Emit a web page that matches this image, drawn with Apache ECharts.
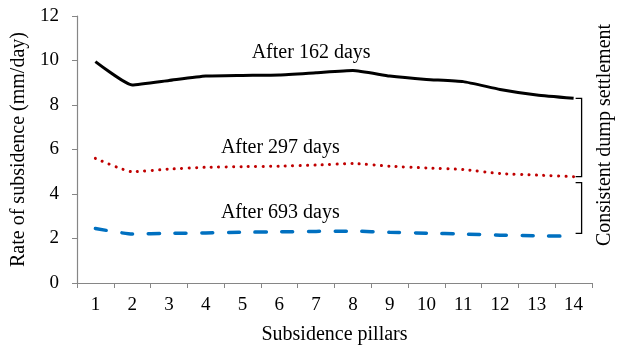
<!DOCTYPE html>
<html>
<head>
<meta charset="utf-8">
<script src="https://cdn.jsdelivr.net/npm/echarts@6/dist/echarts.min.js"></script>
<style>
  html, body { margin: 0; padding: 0; background: #fff; }
  #main { width: 621px; height: 348px; }
</style>
</head>
<body>
<div id="main"></div>
<script>
// pillars 1..14
var pillars = ['1', '2', '3', '4', '5', '6', '7', '8', '9', '10', '11', '12', '13', '14'];
var after162 = [9.95, 8.9, 9.1, 9.3, 9.33, 9.35, 9.45, 9.55, 9.3, 9.15, 9.05, 8.7, 8.45, 8.3];
var after297 = [5.6, 5.0, 5.12, 5.2, 5.23, 5.25, 5.3, 5.37, 5.25, 5.17, 5.1, 4.92, 4.85, 4.78];
var after693 = [2.45, 2.2, 2.23, 2.25, 2.28, 2.3, 2.32, 2.33, 2.28, 2.24, 2.2, 2.15, 2.12, 2.1];
var yTicks = [0, 2, 4, 6, 8, 10, 12];

var font = '"Liberation Serif", "DejaVu Serif", serif';
var myChart = echarts.init(document.getElementById('main'));

/* label over one point of a line */
function tag(text, idx, vals, dx, dy) {
  return {
    symbol: 'circle', symbolSize: 0,
    data: [{ coord: [idx, vals[idx]] }],
    label: {
      show: true, formatter: text, position: 'inside', offset: [dx, dy],
      fontFamily: font, fontSize: 20, color: '#000'
    }
  };
}

/* bracket between the last points of two lines */
function bracket(top, bottom, padTop, padBottom) {
  var last = pillars.length - 1;
  return {
    type: 'custom',
    silent: true,
    encode: { x: 0, y: [1, 2] },
    data: [[last, top[last], bottom[last]]],
    renderItem: function (params, api) {
      var p1 = api.coord([api.value(0), api.value(1)]);
      var p2 = api.coord([api.value(0), api.value(2)]);
      var x0 = p1[0] + 2, x1 = p1[0] + 8;
      var y0 = p1[1] + padTop, y1 = p2[1] + padBottom;
      return {
        type: 'polyline',
        shape: { points: [[x0, y0], [x1, y0], [x1, y1], [x0, y1]] },
        style: { stroke: '#000', lineWidth: 1.3, fill: null }
      };
    },
    z: 1
  };
}

var option = {
  animation: false,
  grid: { left: 77, right: 29, top: 16, bottom: 65, outerBoundsMode: 'none', containLabel: false },
  xAxis: {
    type: 'category',
    data: pillars,
    boundaryGap: true,
    name: 'Subsidence pillars',
    nameLocation: 'middle',
    nameGap: 42,
    nameTextStyle: { fontFamily: font, fontSize: 20, color: '#000' },
    axisLine: { lineStyle: { color: '#868686', width: 1.2 } },
    axisTick: { show: true, length: 5, lineStyle: { color: '#868686' } },
    axisLabel: { fontFamily: font, fontSize: 19, color: '#000', margin: 13 }
  },
  yAxis: {
    type: 'value',
    min: yTicks[0], max: yTicks[yTicks.length - 1], interval: 2,
    name: 'Rate of subsidence (mm/day)',
    nameLocation: 'middle',
    nameGap: 46,
    nameTextStyle: { fontFamily: font, fontSize: 20, color: '#000' },
    axisLine: { show: true, lineStyle: { color: '#868686', width: 1.2 } },
    axisTick: { show: true, length: 5, lineStyle: { color: '#868686' } },
    axisLabel: { fontFamily: font, fontSize: 19, color: '#000', margin: 18 },
    splitLine: { show: false }
  },
  series: [
    {
      name: 'After 162 days', type: 'line', data: after162,
      smooth: 0.15, symbol: 'none',
      lineStyle: { color: '#000', width: 3 },
      markPoint: tag('After 162 days', 6, after162, -5, -20),
      z: 3
    },
    {
      name: 'After 297 days', type: 'line', data: after297,
      smooth: 0.15, symbol: 'none',
      lineStyle: { color: '#C00000', width: 3, type: [0.1, 7.3], cap: 'round' },
      markPoint: tag('After 297 days', 5, after297, 1, -18),
      z: 3
    },
    {
      name: 'After 693 days', type: 'line', data: after693,
      smooth: 0.15, symbol: 'none',
      lineStyle: { color: '#0070C0', width: 3.5, type: [11, 15.7], cap: 'round' },
      markPoint: tag('After 693 days', 5, after693, 1, -19),
      z: 3
    },
    bracket(after162, after297, 0, 0),
    bracket(after297, after693, 6, -3)
  ],
  graphic: [{
    type: 'text',
    x: 605, y: 135,
    rotation: Math.PI / 2,
    style: {
      text: 'Consistent dump settlement',
      font: '20px ' + font,
      fill: '#000',
      align: 'center',
      verticalAlign: 'middle'
    }
  }]
};

myChart.setOption(option);
</script>
</body>
</html>
